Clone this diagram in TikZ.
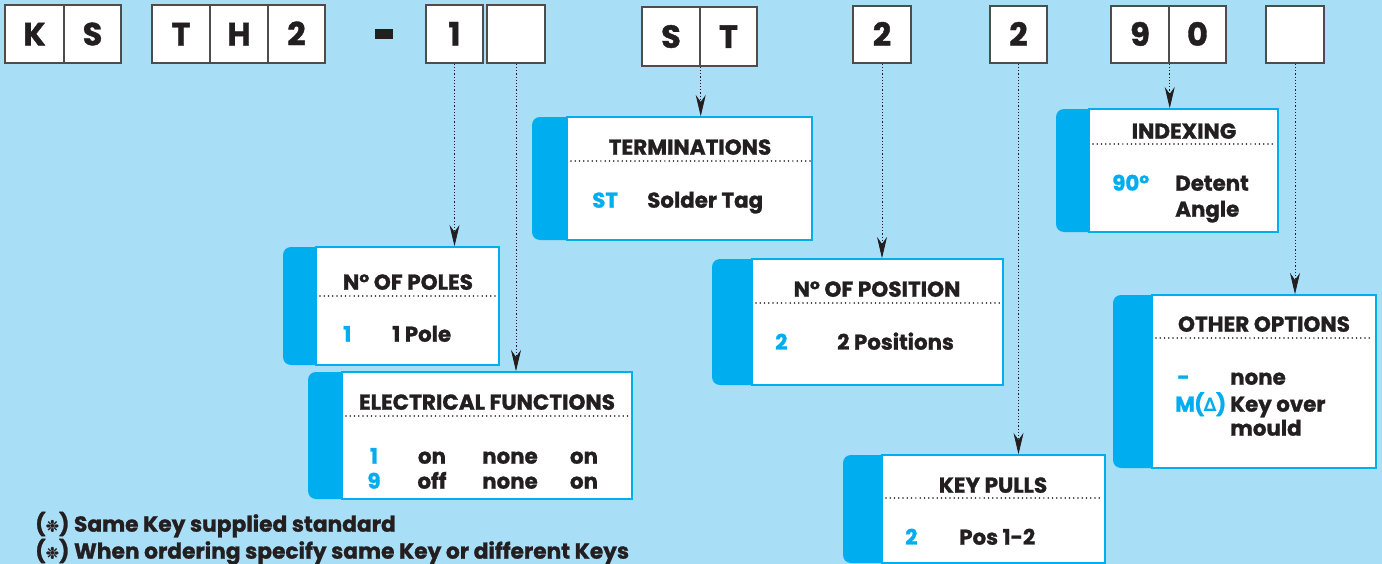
\documentclass[tikz,border=0pt]{standalone}
\usepackage{fontspec}
\setmainfont{Poppins}[BoldFeatures={FakeBold=1.2}]
\newfontfamily\symfont{DejaVu Sans}[FakeBold=1.2]
\newfontfamily\deltafont{DejaVu Sans}
\usetikzlibrary{arrows.meta,fit}
\definecolor{bg}{HTML}{A9DEF7}
\definecolor{tabblue}{HTML}{00AEEF}
\definecolor{ink}{HTML}{231F20}
\definecolor{boxline}{HTML}{4D4D4D}
\newcommand\mypanel[6]{%
  \fill[tabblue, rounded corners=6pt] (#2,#4) rectangle (#3+8,#6);
  \node[panelbox, fit={(#3,#4) (#5,#6)}] (#1) {};}
\newcommand\mycell[4]{%
  \node[cell, fit={(#2) (#3)}] (#1) {};
  \node[cellfont] (#1t) at (#1.center) {#4};}
\begin{document}
\begin{tikzpicture}[x=0.75pt,y=-0.75pt,
  cell/.style={draw=boxline, line width=1.1pt, fill=white, inner sep=0pt},
  cellfont/.style={font=\fontsize{24}{24}\selectfont\bfseries, text=ink, inner sep=0pt,
    text height=17pt, text depth=0pt},
  panelbox/.style={draw=tabblue, line width=1.1pt, fill=white, inner sep=0pt},
  conn/.style={draw=ink, line width=0.6pt, dash pattern=on 1pt off 1.4pt,
    -{Stealth[length=16pt,width=7.5pt]}},
  sepline/.style={ink, line width=1.3pt, dash pattern=on 0pt off 3.2pt, line cap=round},
  ttl/.style={font=\fontsize{16.2}{16.2}\selectfont\bfseries, text=ink, inner sep=0pt,
    text height=11.6pt, text depth=0pt},
  txt/.style={font=\fontsize{16}{16}\selectfont\bfseries, text=ink, inner sep=0pt,
    text height=11.5pt, text depth=0pt, anchor=west},
  num/.style={txt, text=tabblue},
  foot/.style={font=\fontsize{16.3}{16.3}\selectfont\bfseries, text=ink, inner sep=0pt,
    text height=11.5pt, text depth=0pt, anchor=west}]
\fill[bg] (0,0) rectangle (1382,564);
\useasboundingbox (0,0) rectangle (1382,564);

% top code boxes
\mycell{cK}{5,5}{64,63}{K}
\mycell{cS}{64,5}{121,63}{S}
\mycell{cT}{152,5}{210,63}{T}
\mycell{cH}{210,5}{268,63}{H}
\mycell{c2a}{268,5}{325,63}{2}
\fill[ink] (375,29) rectangle (393,39);
\mycell{c1}{426,5}{483,63}{1}
\mycell{cE1}{487,5}{545,63}{}
\mycell{cSt}{642,7}{700,66}{S}
\mycell{cTt}{700,7}{757,66}{T}
\mycell{c2b}{853,6}{911,63}{2}
\mycell{c2c}{990,6}{1047,63}{2}
\mycell{c9}{1111,6}{1169,63}{9}
\mycell{c0}{1169,6}{1226,63}{0}
\mycell{cE2}{1266,6}{1324,63}{}

% panels
\mypanel{term}{532}{567}{117}{812}{240}
\mypanel{poles}{283}{316}{247}{499}{365}
\mypanel{elec}{308}{342}{372}{632}{499}
\mypanel{pos}{712}{752}{259}{1003}{385}
\mypanel{keyp}{843}{882}{455}{1105}{563}
\mypanel{index}{1056}{1089}{109}{1278}{232}
\mypanel{other}{1113}{1152}{295}{1376}{468}

% connectors
\draw[conn] (c1.south) -- (c1.south |- poles.north);
\draw[conn] (cE1.south) -- (cE1.south |- elec.north);
\draw[conn] (cSt.south east) -- (cSt.south east |- term.north);
\draw[conn] (c2b.south) -- (c2b.south |- pos.north);
\draw[conn] (c2c.south) -- (c2c.south |- keyp.north);
\draw[conn] (c9.south east) -- (c9.south east |- index.north);
\draw[conn] (cE2.south) -- (cE2.south |- other.north);

% TERMINATIONS
\node[ttl] (tTerm) at (690,147) {TERMINATIONS};
\draw[sepline] (571,161) -- (810,161);
\node[num] (nST) at (592,200) {ST};
\node[txt] (dST) at (647,200) {Solder Tag};

% N OF POLES
\node[ttl] (tPoles) at (408,282) {N° OF POLES};
\draw[sepline] (320,296) -- (497,296);
\node[num] (nP1) at (343,334) {1};
\node[txt] (dP1) at (392,334) {1 Pole};

% ELECTRICAL FUNCTIONS
\node[ttl] (tElec) at (487,402) {ELECTRICAL FUNCTIONS};
\draw[sepline] (346,416) -- (630,416);
\node[num, anchor=center] (nE1) at (374,456) {1};
\node[num, anchor=center] (nE9) at (374,481) {9};
\node[txt, anchor=center] (e1a) at (432,456) {on};
\node[txt, anchor=center] (e1b) at (510,456) {none};
\node[txt, anchor=center] (e1c) at (584,456) {on};
\node[txt, anchor=center] (e9a) at (432,481) {off};
\node[txt, anchor=center] (e9b) at (510,481) {none};
\node[txt, anchor=center] (e9c) at (584,481) {on};

% N OF POSITION
\node[ttl] (tPos) at (877,289) {N° OF POSITION};
\draw[sepline] (756,303) -- (1000,303);
\node[num] (nPos) at (775,342) {2};
\node[txt] (dPos) at (837,342) {2 Positions};

% KEY PULLS
\node[ttl] (tKey) at (993,485) {KEY PULLS};
\draw[sepline] (886,498) -- (1102,498);
\node[num] (nKey) at (905,537) {2};
\node[txt] (dKey) at (959,537) {Pos 1-2};

% INDEXING
\node[ttl] (tIdx) at (1184,131) {INDEXING};
\draw[sepline] (1093,144) -- (1275,144);
\node[num] (nIdx) at (1112,183) {90°};
\node[txt] (dIdx1) at (1175,183) {Detent};
\node[txt] (dIdx2) at (1175,209) {Angle};

% OTHER OPTIONS
\node[ttl] (tOth) at (1264,324) {OTHER OPTIONS};
\draw[sepline] (1156,338) -- (1373,338);
\node[num] (nOth1) at (1177,377) {-};
\node[txt] (dOth1) at (1230,377) {none};
\node[num] (nOth2) at (1175,404) {M\kern-0.5pt(\kern-0.5pt{\deltafont\fontsize{14}{14}\selectfont ∆}\kern-0.5pt)};
\node[txt] (dOth2) at (1230,404) {Key over};
\node[txt] (dOth3) at (1230,428) {mould};

% footnotes
\node[foot] (f1) at (35,524) {({\symfont\fontsize{12}{12}\selectfont ❉}) Same Key supplied standard};
\node[foot] (f2) at (35,551) {({\symfont\fontsize{12}{12}\selectfont ❉}) When ordering specify same Key or different Keys};
\end{tikzpicture}
\end{document}
